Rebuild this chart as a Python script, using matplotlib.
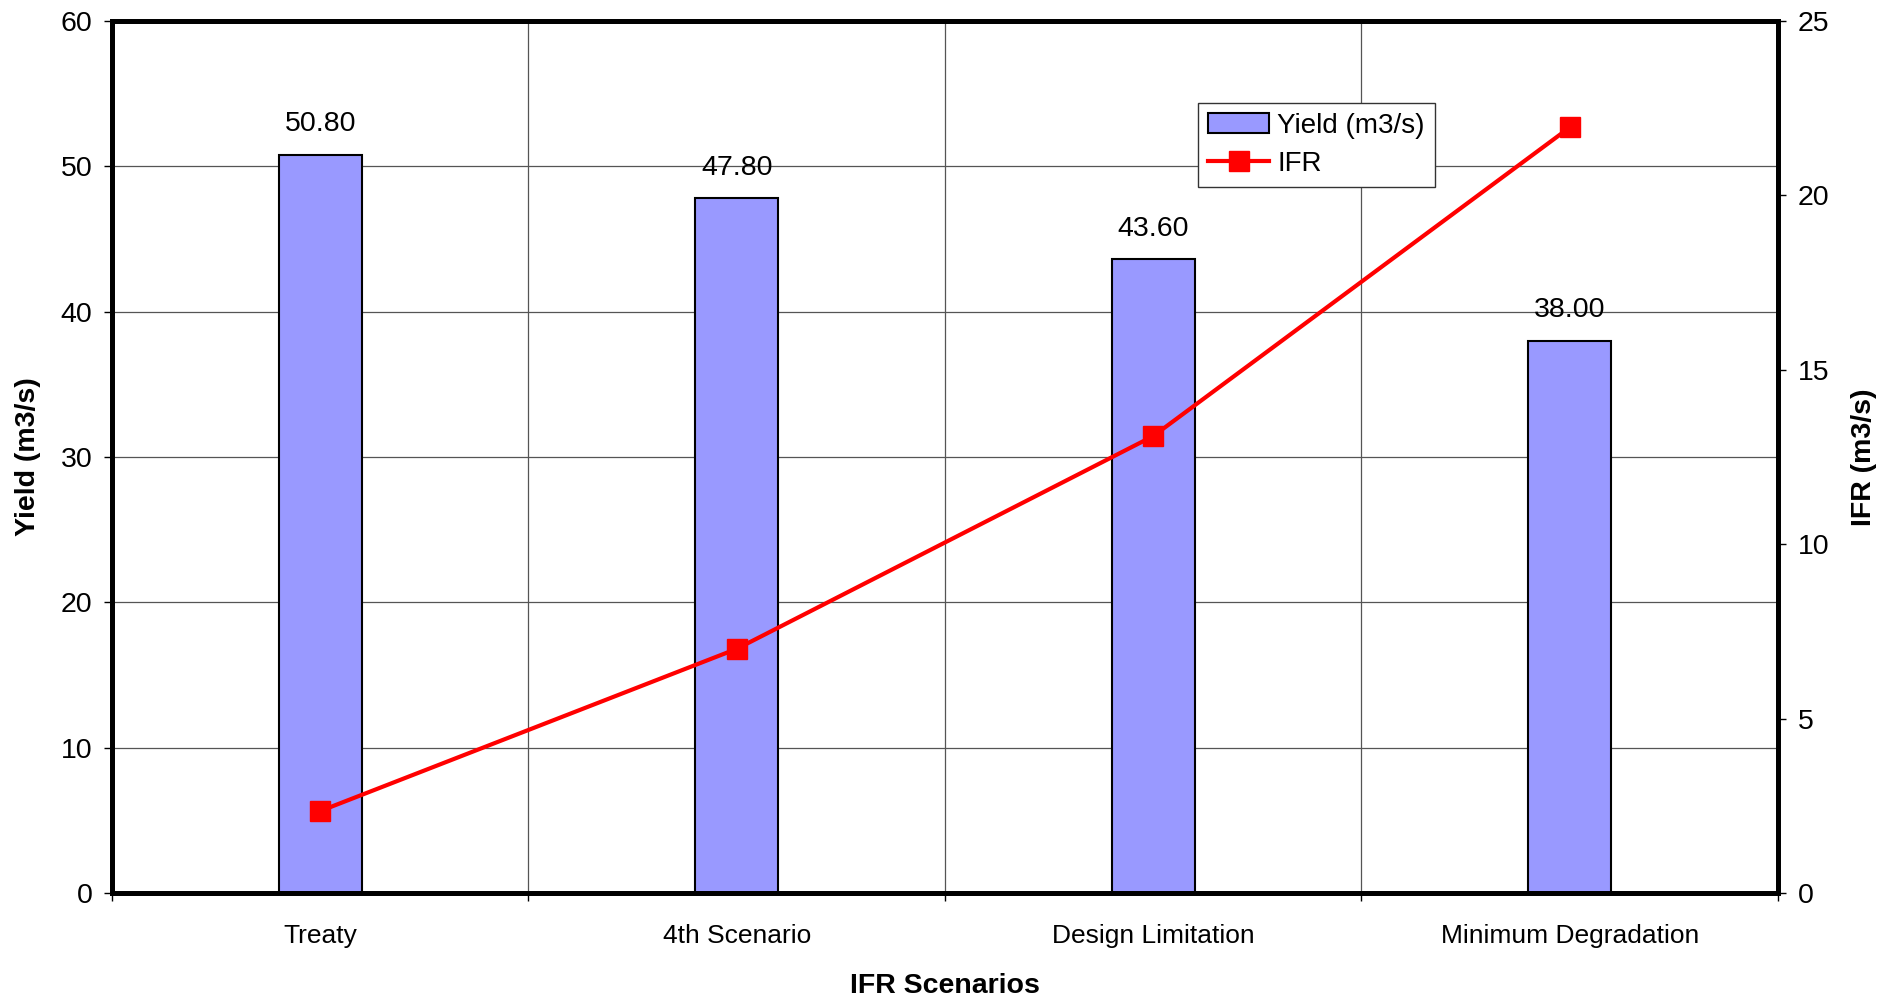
import matplotlib
matplotlib.use("Agg")
import matplotlib.pyplot as plt
import numpy as np

categories = ["Treaty", "4th Scenario", "Design Limitation", "Minimum Degradation"]
yield_vals = [50.80, 47.80, 43.60, 38.00]
ifr_vals = [2.35, 7.0, 13.1, 21.95]
yield_ticks = [0, 10, 20, 30, 40, 50, 60]
ifr_ticks = [0, 5, 10, 15, 20, 25]

plt.rcParams['font.family'] = ['Liberation Sans', 'DejaVu Sans']

fig = plt.figure(figsize=(19.01, 9.96), dpi=100)
ax = fig.add_axes([0.0589, 0.1034, 0.8764, 0.8755])
ax2 = ax.twinx()

x = np.arange(len(categories))
bars = ax.bar(x, yield_vals, width=0.2, color='#9999FF', edgecolor='black',
              linewidth=1.5, label='Yield (m3/s)', zorder=2)
for xi, v in zip(x, yield_vals):
    ax.text(xi, v + 1.2, f"{v:.2f}", ha='center', va='bottom', fontsize=20.5)

line, = ax2.plot(x, ifr_vals, color='#FF0000', linewidth=3, marker='s',
                 markersize=15, label='IFR', zorder=3)

ax.set_xlim(-0.5, len(categories) - 0.5)
ax.set_ylim(0, 60)
ax2.set_ylim(0, 25)
ax.set_yticks(yield_ticks)
ax2.set_yticks(ifr_ticks)
ax.set_xticks(x)
ax.set_xticklabels(categories)
ax.set_xticks(np.arange(-0.5, len(categories)), minor=True)
ax.tick_params(axis='x', which='major', length=0, pad=22, labelsize=19)
ax.tick_params(axis='x', which='minor', length=6, width=1, direction='out')
ax.tick_params(axis='y', length=6, width=1, labelsize=20.5, pad=8)
ax2.tick_params(axis='y', length=6, width=1, labelsize=20.5, pad=8)

ax.grid(axis='y', color='#555555', linewidth=0.9, zorder=0)
ax.grid(axis='x', which='minor', color='#555555', linewidth=0.9, zorder=0)
ax.set_axisbelow(True)

for sp in list(ax.spines.values()) + list(ax2.spines.values()):
    sp.set_linewidth(3.5)
    sp.set_color('black')

ax.set_xlabel('IFR Scenarios', fontsize=20.5, fontweight='bold', labelpad=18)
ax.set_ylabel('Yield (m3/s)', fontsize=20.5, fontweight='bold', labelpad=14)
ax2.set_ylabel('IFR (m3/s)', fontsize=20.5, fontweight='bold', labelpad=16)

leg = ax2.legend([bars, line], ['Yield (m3/s)', 'IFR'], loc='upper left',
                 bbox_to_anchor=(0.652, 0.906), fontsize=20, frameon=True,
                 fancybox=False, edgecolor='#333333', framealpha=1,
                 borderpad=0.35, labelspacing=0.45, handlelength=2.2,
                 handletextpad=0.3, borderaxespad=0)
leg.get_frame().set_linewidth(1)
ax.set_zorder(0)
ax2.set_zorder(1)
ax.patch.set_visible(True)
ax2.patch.set_visible(False)

fig.savefig('out.png', dpi=100)
